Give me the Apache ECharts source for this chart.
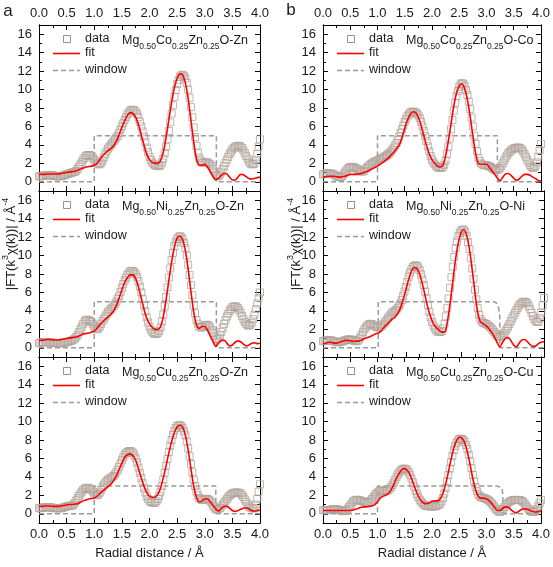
<!DOCTYPE html>
<html><head><meta charset="utf-8">
<script src="https://cdn.jsdelivr.net/npm/echarts@6/dist/echarts.min.js"></script>
<style>html,body{margin:0;padding:0;background:#fff}#c{width:553px;height:567px}</style>
</head><body><div id="c"></div>
<script>
// sampling grids in R (Å): data every 0.025 Å, fit every 0.05 Å
const RD = []; for (let i = 0; i <= 160; i++) RD.push(+(i * 0.025).toFixed(3));
const RF = []; for (let i = 0; i <= 80; i++) RF.push(+(i * 0.05).toFixed(2));
const yTicks = [0, 2, 4, 6, 8, 10, 12, 14, 16];

const labelCoZn = 'Mg{s|0.50}Co{s|0.25}Zn{s|0.25}O-Zn';
const labelCoCo = 'Mg{s|0.50}Co{s|0.25}Zn{s|0.25}O-Co';
const labelNiZn = 'Mg{s|0.50}Ni{s|0.25}Zn{s|0.25}O-Zn';
const labelNiNi = 'Mg{s|0.50}Ni{s|0.25}Zn{s|0.25}O-Ni';
const labelCuZn = 'Mg{s|0.50}Cu{s|0.25}Zn{s|0.25}O-Zn';
const labelCuCu = 'Mg{s|0.50}Cu{s|0.25}Zn{s|0.25}O-Cu';

const dataCoZn = [0.6,0.6,0.6,0.65,0.7,0.7,0.7,0.7,0.7,0.7,
 0.7,0.65,0.6,0.6,0.6,0.6,0.6,0.65,0.7,0.75,
 0.8,0.85,0.9,0.95,1.0,1.05,1.1,1.2,1.4,1.65,
 1.9,2.15,2.4,2.6,2.8,2.9,2.9,2.9,2.8,2.6,
 2.4,2.2,2.0,1.9,1.9,2.05,2.3,2.65,3.0,3.3,
 3.6,3.8,4.0,4.2,4.4,4.6,4.8,5.0,5.3,5.65,
 6.0,6.35,6.7,7.0,7.3,7.5,7.7,7.8,7.8,7.75,
 7.6,7.35,7.0,6.5,6.0,5.45,4.9,4.3,3.7,3.2,
 2.7,2.35,2.1,1.9,1.8,1.72,1.7,1.72,1.8,2.1,
 2.5,3.1,3.8,4.6,5.5,6.45,7.4,8.3,9.2,9.95,
 10.6,11.05,11.4,11.55,11.6,11.45,11.2,10.7,10.0,9.1,
 8.1,7.0,5.9,4.85,3.9,3.15,2.6,2.3,2.1,2.08,
 2.1,2.1,2.1,2.0,1.9,1.7,1.4,1.1,0.8,0.65,
 0.6,0.8,1.1,1.4,1.7,2.05,2.4,2.7,3.0,3.25,
 3.5,3.65,3.8,3.85,3.9,3.88,3.8,3.65,3.4,3.1,
 2.8,2.5,2.2,2.0,1.9,1.9,2.0,2.4,3.0,3.8,
 4.6];
const fitCoZn = [0.8,0.8,0.8,0.85,0.85,0.85,0.85,0.85,0.9,0.95, 1.0,1.05,1.1,1.15,1.25,1.4,1.5,1.6,1.65,1.7, 1.8,2.0,2.4,2.8,3.1,3.4,3.6,3.9,4.4,5.1, 5.9,6.6,7.2,7.5,7.4,7.0,6.2,5.1,4.0,3.0, 2.4,2.1,2.0,2.0,2.3,3.2,4.8,6.7,8.6,10.2, 11.2,11.7,11.6,10.7,9.0,6.7,4.3,2.5,1.8,1.8, 1.9,1.6,1.1,0.6,0.2,0.4,0.7,0.9,0.85,0.5, 0.2,0.2,0.5,0.8,0.75,0.55,0.35,0.3,0.35,0.45, 0.5];

const dataCoCo = [0.8,0.85,0.9,0.9,0.9,0.9,0.9,0.85,0.8,0.7,
 0.6,0.55,0.5,0.52,0.6,0.8,1.0,1.2,1.4,1.5,
 1.6,1.62,1.6,1.55,1.5,1.4,1.3,1.2,1.1,1.12,
 1.2,1.35,1.5,1.65,1.8,1.9,2.0,2.1,2.2,2.25,
 2.3,2.4,2.5,2.55,2.6,2.7,2.8,2.9,3.0,3.15,
 3.3,3.5,3.7,3.95,4.2,4.55,4.9,5.3,5.7,6.1,
 6.5,6.8,7.1,7.3,7.5,7.58,7.6,7.58,7.5,7.38,
 7.2,6.9,6.5,6.0,5.5,4.95,4.4,3.85,3.3,2.8,
 2.4,2.1,1.9,1.72,1.6,1.52,1.5,1.52,1.6,1.85,
 2.3,3.0,3.8,4.7,5.7,6.7,7.7,8.55,9.3,9.85,
 10.3,10.55,10.7,10.62,10.4,9.95,9.4,8.7,7.9,6.95,
 6.0,5.0,4.1,3.3,2.6,2.25,2.0,1.88,1.8,1.8,
 1.8,1.75,1.7,1.6,1.5,1.4,1.3,1.28,1.3,1.38,
 1.5,1.72,2.0,2.3,2.6,2.85,3.1,3.25,3.4,3.5,
 3.6,3.66,3.7,3.7,3.7,3.62,3.5,3.28,3.0,2.7,
 2.4,2.1,1.8,1.6,1.5,1.55,1.7,2.1,2.7,3.4,
 4.1];
const fitCoCo = [0.5,0.55,0.6,0.6,0.6,0.55,0.5,0.55,0.6,0.7, 0.8,0.8,0.8,0.85,0.9,1.0,1.1,1.25,1.4,1.55, 1.7,1.9,2.1,2.35,2.6,2.9,3.2,3.6,4.0,4.8, 5.8,6.7,7.3,7.6,7.5,7.0,6.1,5.0,3.9,3.0, 2.4,2.0,1.7,1.6,1.8,2.8,4.4,6.3,8.2,9.6, 10.4,10.6,10.1,8.9,7.1,5.0,3.1,2.0,1.9,1.9, 1.9,1.6,1.2,0.8,0.4,0.1,0.5,0.85,0.9,0.7, 0.4,0.15,0.3,0.6,0.8,0.8,0.7,0.5,0.35,0.15, 0.1];

const dataNiZn = [0.5,0.55,0.6,0.6,0.6,0.6,0.6,0.6,0.6,0.58,
 0.55,0.52,0.5,0.5,0.5,0.5,0.5,0.52,0.55,0.58,
 0.6,0.65,0.7,0.75,0.8,0.88,1.0,1.18,1.4,1.7,
 2.0,2.3,2.6,2.85,3.0,3.05,3.0,2.92,2.8,2.55,
 2.3,2.1,2.0,2.1,2.3,2.6,2.9,3.15,3.4,3.65,
 3.9,4.05,4.2,4.35,4.5,4.75,5.0,5.3,5.6,6.05,
 6.5,6.9,7.3,7.6,7.9,8.1,8.3,8.33,8.3,8.2,
 8.0,7.65,7.2,6.65,6.0,5.3,4.6,3.95,3.3,2.75,
 2.3,1.95,1.7,1.56,1.5,1.52,1.6,1.82,2.2,2.85,
 3.6,4.5,5.5,6.55,7.6,8.6,9.5,10.3,11.0,11.45,
 11.8,12.0,12.1,12.0,11.8,11.35,10.8,10.0,9.0,7.9,
 6.8,5.7,4.6,3.75,3.0,2.6,2.3,2.22,2.2,2.3,
 2.4,2.47,2.5,2.4,2.2,1.9,1.6,1.3,1.0,0.98,
 1.1,1.35,1.7,2.15,2.6,3.0,3.4,3.7,4.0,4.2,
 4.4,4.47,4.5,4.45,4.3,4.08,3.8,3.45,3.1,2.82,
 2.6,2.45,2.4,2.5,2.7,3.1,3.6,4.2,4.8,5.4,
 6.0];
const fitNiZn = [0.8,0.8,0.85,0.9,0.9,0.85,0.85,0.85,0.9,0.95, 1.0,1.05,1.1,1.15,1.2,1.35,1.5,1.55,1.6,1.7, 1.8,2.1,2.5,2.8,3.1,3.35,3.6,4.0,4.6,5.4, 6.3,7.1,7.6,7.9,7.9,7.5,6.6,5.4,4.2,3.2, 2.6,2.2,2.0,2.0,2.3,3.4,5.2,7.3,9.3,10.9, 11.9,12.1,11.7,10.5,8.5,6.1,3.9,2.5,2.1,2.3, 2.3,1.9,1.3,0.7,0.15,0.5,0.8,0.8,0.5,0.2, 0.3,0.6,0.75,0.65,0.4,0.2,0.3,0.5,0.55,0.45, 0.5];

const dataNiNi = [0.7,0.75,0.8,0.8,0.8,0.8,0.8,0.75,0.7,0.65,
 0.6,0.6,0.6,0.65,0.7,0.75,0.8,0.85,0.9,0.9,
 0.9,0.85,0.8,0.75,0.7,0.75,0.9,1.12,1.4,1.7,
 2.0,2.22,2.4,2.52,2.6,2.58,2.5,2.4,2.3,2.24,
 2.2,2.22,2.3,2.45,2.6,2.8,3.0,3.2,3.4,3.6,
 3.8,3.9,4.0,4.13,4.3,4.52,4.8,5.18,5.6,6.1,
 6.6,7.15,7.7,8.15,8.5,8.75,8.9,8.93,8.9,8.7,
 8.4,7.95,7.4,6.8,6.1,5.35,4.6,3.9,3.3,2.8,
 2.4,2.1,1.9,1.76,1.7,1.72,1.8,2.1,2.6,3.4,
 4.3,5.35,6.5,7.65,8.8,9.85,10.8,11.5,12.1,12.45,
 12.7,12.8,12.8,12.55,12.1,11.45,10.7,9.7,8.6,7.45,
 6.3,5.25,4.3,3.6,3.1,2.85,2.7,2.65,2.6,2.5,
 2.4,2.25,2.1,1.9,1.7,1.5,1.3,1.22,1.2,1.27,
 1.4,1.58,1.8,2.05,2.3,2.6,2.9,3.2,3.5,3.8,
 4.1,4.35,4.6,4.78,4.9,4.97,5.0,4.93,4.8,4.52,
 4.2,3.8,3.4,3.1,2.9,2.8,2.8,3.2,3.8,4.6,
 5.4];
const fitNiNi = [0.45,0.5,0.6,0.6,0.5,0.5,0.6,0.7,0.8,0.8, 0.75,0.7,0.7,0.75,0.85,1.0,1.1,1.2,1.35,1.5, 1.6,1.8,2.2,2.5,2.8,3.1,3.3,3.7,4.3,5.2, 6.3,7.4,8.3,8.7,8.6,8.0,6.9,5.6,4.3,3.3, 2.6,2.2,1.9,1.7,1.7,2.8,4.8,7.2,9.6,11.4, 12.5,12.8,12.2,10.7,8.5,6.0,3.8,2.8,2.6,2.4, 2.1,1.7,1.2,0.6,0.1,0.6,1.0,1.1,0.8,0.3, 0.1,0.5,0.85,0.9,0.65,0.35,0.15,0.2,0.45,0.6, 0.65];

const dataCuZn = [0.6,0.62,0.65,0.68,0.7,0.7,0.7,0.7,0.7,0.68,
 0.65,0.62,0.6,0.6,0.6,0.6,0.6,0.65,0.7,0.75,
 0.8,0.82,0.85,0.87,0.9,1.0,1.2,1.45,1.7,1.95,
 2.2,2.4,2.6,2.72,2.8,2.82,2.8,2.72,2.6,2.4,
 2.2,2.05,2.0,2.1,2.3,2.6,2.9,3.15,3.4,3.55,
 3.7,3.8,3.9,4.0,4.1,4.28,4.5,4.78,5.1,5.45,
 5.8,6.12,6.4,6.58,6.7,6.78,6.8,6.75,6.6,6.35,
 6.0,5.55,5.0,4.45,3.9,3.35,2.8,2.3,1.9,1.6,
 1.4,1.28,1.2,1.18,1.2,1.35,1.6,1.95,2.4,3.0,
 3.7,4.45,5.2,5.95,6.7,7.38,8.0,8.55,9.0,9.3,
 9.5,9.58,9.6,9.5,9.3,8.95,8.5,7.85,7.1,6.25,
 5.4,4.5,3.7,3.0,2.4,2.0,1.7,1.58,1.5,1.55,
 1.6,1.62,1.6,1.52,1.4,1.18,0.9,0.68,0.5,0.45,
 0.5,0.62,0.8,1.0,1.2,1.4,1.6,1.8,2.0,2.1,
 2.2,2.26,2.3,2.3,2.3,2.27,2.2,2.02,1.8,1.55,
 1.3,1.05,0.8,0.68,0.6,0.58,0.6,1.0,1.6,2.4,
 3.2];
const fitCuZn = [0.8,0.8,0.85,0.85,0.85,0.8,0.8,0.8,0.85,0.9, 0.95,1.0,1.0,1.05,1.1,1.25,1.4,1.5,1.6,1.65, 1.7,1.9,2.2,2.45,2.7,2.95,3.2,3.6,4.1,4.8, 5.5,6.1,6.4,6.5,6.3,5.8,4.9,3.9,3.0,2.3, 1.9,1.8,1.8,2.1,2.8,3.9,5.2,6.6,7.8,8.8, 9.4,9.6,9.4,8.5,6.9,4.9,3.0,1.8,1.3,1.4, 1.6,1.6,1.3,0.9,0.5,0.3,0.6,0.8,0.8,0.6, 0.35,0.25,0.35,0.5,0.6,0.65,0.55,0.35,0.3,0.35, 0.4];

const dataCuCu = [0.4,0.4,0.4,0.4,0.4,0.42,0.45,0.48,0.5,0.5,
 0.5,0.45,0.4,0.35,0.3,0.28,0.3,0.38,0.5,0.7,
 0.9,1.1,1.3,1.42,1.5,1.52,1.5,1.45,1.4,1.35,
 1.3,1.25,1.2,1.22,1.3,1.43,1.6,1.8,2.0,2.15,
 2.3,2.42,2.5,2.52,2.5,2.5,2.5,2.53,2.6,2.73,
 2.9,3.13,3.4,3.7,4.0,4.28,4.5,4.68,4.8,4.88,
 4.9,4.83,4.7,4.48,4.2,3.82,3.4,2.95,2.5,2.12,
 1.8,1.52,1.3,1.13,1.0,0.9,0.85,0.82,0.8,0.8,
 0.8,0.8,0.8,0.83,0.9,0.98,1.1,1.35,1.7,2.2,
 2.8,3.5,4.2,4.9,5.6,6.28,6.9,7.35,7.7,7.93,
 8.1,8.15,8.1,8.0,7.8,7.45,7.0,6.4,5.7,4.95,
 4.2,3.5,2.9,2.45,2.1,1.92,1.8,1.75,1.7,1.65,
 1.6,1.5,1.4,1.27,1.1,0.9,0.7,0.5,0.35,0.25,
 0.2,0.3,0.5,0.7,0.9,1.07,1.2,1.32,1.4,1.46,
 1.5,1.5,1.5,1.5,1.5,1.47,1.4,1.27,1.1,0.9,
 0.7,0.5,0.35,0.25,0.2,0.22,0.3,0.5,0.8,1.15,
 1.5];
const fitCuCu = [0.35,0.35,0.35,0.35,0.35,0.35,0.35,0.35,0.35,0.35, 0.35,0.4,0.5,0.6,0.7,0.75,0.75,0.8,0.85,1.0, 1.3,1.7,1.9,2.0,2.2,2.6,3.2,3.9,4.4,4.8, 4.9,4.7,4.2,3.4,2.6,1.9,1.4,1.15,1.1,1.2, 1.35,1.4,1.4,1.6,2.2,3.2,4.5,5.9,7.1,7.9, 8.3,8.2,7.7,6.7,5.3,3.8,2.6,1.9,1.7,1.7, 1.6,1.4,1.1,0.7,0.35,0.35,0.6,0.75,0.7,0.45, 0.2,0.1,0.3,0.5,0.55,0.5,0.35,0.25,0.2,0.25, 0.3];

const winCoZnX = [0,1,1,3.21,3.21,4], winCoZnY = [0,0,5,5,0,0];
const winCoCoX = [0,1,1,3.2,3.2,4],   winCoCoY = [0,0,5,5,0,0];
const winNiZnX = [0,1,1,3.21,3.21,4], winNiZnY = [0,0,5,5,0,0];
const winNiNiX = [0,1,1,3.1,3.15,3.18,3.2,3.2,4], winNiNiY = [0,0,5,5,4.8,4.3,3.4,0,0];
const winCuZnX = [0,1,1,3.2,3.2,4],   winCuZnY = [0,0,3,3,0,0];
const winCuCuX = [0,1,1,3.2,3.26,3.29,3.3,3.3,4], winCuCuY = [0,0,3,3,2.9,2.6,2.1,0,0];

const panels = [
  {label: labelCoZn, data: dataCoZn, fit: fitCoZn, wx: winCoZnX, wy: winCoZnY},
  {label: labelCoCo, data: dataCoCo, fit: fitCoCo, wx: winCoCoX, wy: winCoCoY},
  {label: labelNiZn, data: dataNiZn, fit: fitNiZn, wx: winNiZnX, wy: winNiZnY},
  {label: labelNiNi, data: dataNiNi, fit: fitNiNi, wx: winNiNiX, wy: winNiNiY},
  {label: labelCuZn, data: dataCuZn, fit: fitCuZn, wx: winCuZnX, wy: winCuZnY},
  {label: labelCuCu, data: dataCuCu, fit: fitCuCu, wx: winCuCuX, wy: winCuCuY}
];

const FONT = '"Liberation Sans", Arial, sans-serif';
const TXT = '#1a1a1a';
const SQ = '#b2a49b';
const colL = [39, 323], W = 221, rowT = [25, 191, 357], H = 166;
const grid = [], xAxis = [], yAxis = [], series = [], graphic = [];

panels.forEach((p, i) => {
  const r = Math.floor(i / 2), c = i % 2;
  const L = colL[c], T = rowT[r];
  grid.push({left: L, top: T, width: W, height: H});
  const axLine = {show: true, onZero: false, lineStyle: {color: '#000', width: 1}};
  const tick = {show: true, inside: true, length: 5, lineStyle: {color: '#000', width: 1}};
  const minor = {show: true, splitNumber: 2, length: 3, lineStyle: {color: '#000', width: 1}};
  const xl = (show) => ({show, margin: 5, color: TXT, fontSize: 13, fontFamily: FONT,
    formatter: v => v.toFixed(1), showMinLabel: true, showMaxLabel: true});
  xAxis.push({gridIndex: i, type: 'value', min: 0, max: 4, interval: 0.5, position: 'bottom',
    axisLine: axLine, axisTick: tick, minorTick: minor, splitLine: {show: false}, axisLabel: xl(r === 2),
    name: r === 2 ? 'Radial distance / Å' : '', nameLocation: 'middle', nameGap: 24,
    nameTextStyle: {color: TXT, fontSize: 13, fontFamily: FONT}});
  xAxis.push({gridIndex: i, type: 'value', min: 0, max: 4, interval: 0.5, position: 'top',
    axisLine: axLine, axisTick: tick, minorTick: minor, splitLine: {show: false}, axisLabel: xl(r === 0)});
  const yl = (show) => ({show, margin: 7, color: TXT, fontSize: 13, fontFamily: FONT, customValues: yTicks});
  yAxis.push({gridIndex: i, type: 'value', min: -1, max: 17, position: 'left', axisLine: axLine,
    axisTick: Object.assign({}, tick, {customValues: yTicks}), axisLabel: yl(true), splitLine: {show: false}});
  yAxis.push({gridIndex: i, type: 'value', min: -1, max: 17, interval: 2, position: 'left', axisLine: axLine,
    axisTick: Object.assign({}, tick, {length: 3}), axisLabel: {show: false}, splitLine: {show: false}});
  yAxis.push({gridIndex: i, type: 'value', min: -1, max: 17, position: 'right', axisLine: axLine,
    axisTick: Object.assign({}, tick, {customValues: yTicks}), axisLabel: yl(false), splitLine: {show: false}});
  yAxis.push({gridIndex: i, type: 'value', min: -1, max: 17, interval: 2, position: 'right', axisLine: axLine,
    axisTick: Object.assign({}, tick, {length: 3}), axisLabel: {show: false}, splitLine: {show: false}});

  series.push({type: 'line', name: 'window', xAxisIndex: 2 * i, yAxisIndex: 4 * i,
    data: p.wx.map((x, k) => [x, p.wy[k]]), showSymbol: false, silent: true, z: 1,
    lineStyle: {color: '#9a9a9a', width: 1.5, type: [5, 3]}});
  series.push({type: 'scatter', name: 'data', xAxisIndex: 2 * i, yAxisIndex: 4 * i,
    data: RD.map((x, k) => [x, p.data[k]]), symbol: 'rect', symbolSize: 7, silent: true, z: 2,
    itemStyle: {color: 'rgba(0,0,0,0)', borderColor: SQ, borderWidth: 1}});
  series.push({type: 'line', name: 'fit', xAxisIndex: 2 * i, yAxisIndex: 4 * i,
    data: RF.map((x, k) => [x, p.fit[k]]), showSymbol: false, smooth: 0.3, silent: true, z: 3,
    lineStyle: {color: '#ff0000', width: 1.6}});

  // legend block
  graphic.push({type: 'rect', shape: {x: L + 24.5, y: T + 10.5, width: 7, height: 7},
    style: {fill: 'rgba(0,0,0,0)', stroke: '#a39087', lineWidth: 1}});
  graphic.push({type: 'line', shape: {x1: L + 14, y1: T + 28.5, x2: L + 41, y2: T + 28.5},
    style: {stroke: '#ff0000', lineWidth: 1.6}});
  graphic.push({type: 'line', shape: {x1: L + 14, y1: T + 45.5, x2: L + 41, y2: T + 45.5},
    style: {stroke: '#9a9a9a', lineWidth: 1.5, lineDash: [5, 3]}});
  [['data', 14], ['fit', 28], ['window', 45]].forEach(([t, dy]) => {
    graphic.push({type: 'text', x: L + 46, y: T + dy,
      style: {text: t, fontSize: 12.5, fontFamily: FONT, fill: TXT, verticalAlign: 'middle', align: 'left'}});
  });
  graphic.push({type: 'text', x: L + 83, y: T + 16,
    style: {text: p.label, fontSize: 12.5, fontFamily: FONT, fill: TXT, lineHeight: 20,
      verticalAlign: 'middle', align: 'left',
      rich: {s: {fontSize: 8.5, fontFamily: FONT, fill: TXT, lineHeight: 10, verticalAlign: 'bottom'}}}});
});

// panel letters
graphic.push({type: 'text', x: 8, y: 11, style: {text: 'a', fontSize: 17, fontFamily: FONT, fill: TXT, align: 'center', verticalAlign: 'middle'}});
graphic.push({type: 'text', x: 291, y: 10, style: {text: 'b', fontSize: 17, fontFamily: FONT, fill: TXT, align: 'center', verticalAlign: 'middle'}});
// y-axis titles
[[11, 244], [296, 244]].forEach(([x, y]) => {
  graphic.push({type: 'text', x, y, rotation: Math.PI / 2,
    style: {text: '|FT(k{sup|3}χ(k))| / Å{sup|-4}', fontSize: 13, fontFamily: FONT, fill: TXT, lineHeight: 20,
      align: 'center', verticalAlign: 'middle',
      rich: {sup: {fontSize: 9, fontFamily: FONT, fill: TXT, lineHeight: 10, verticalAlign: 'top'}}}});
});

const chart = echarts.init(document.getElementById('c'), null, {renderer: 'canvas'});
chart.setOption({animation: false, backgroundColor: '#fff', grid, xAxis, yAxis, series, graphic});
</script></body></html>
